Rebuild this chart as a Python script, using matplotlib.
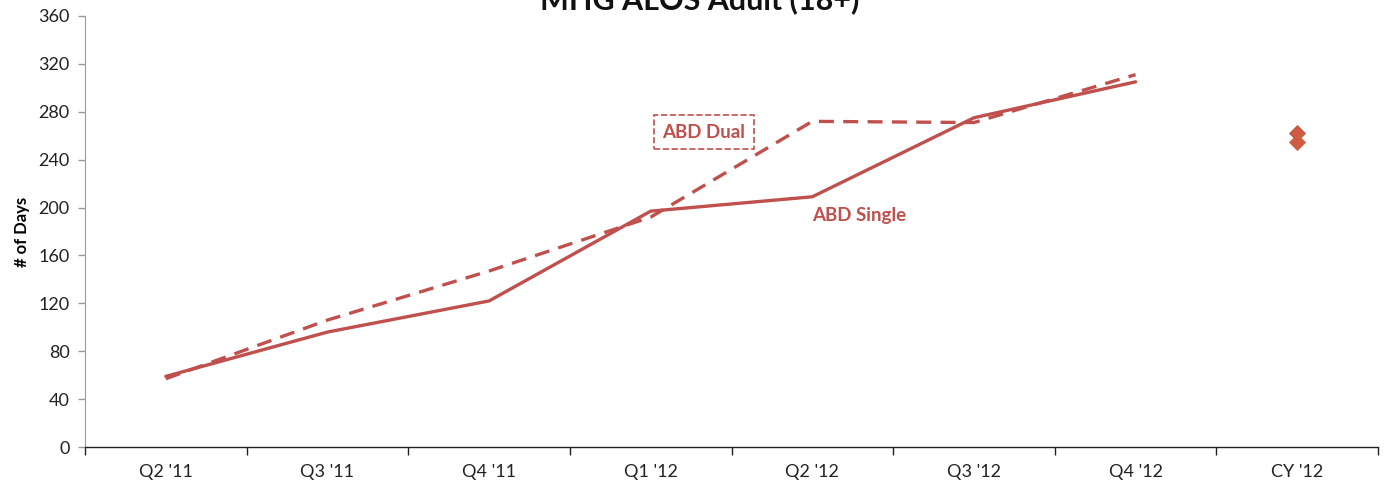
import matplotlib
matplotlib.use("Agg")
import matplotlib.pyplot as plt
import numpy as np

categories = ["Q2 '11", "Q3 '11", "Q4 '11", "Q1 '12", "Q2 '12", "Q3 '12", "Q4 '12", "CY '12"]
abd_single = [59, 96, 122, 197, 209, 275, 305]
abd_dual = [57, 106, 147, 192, 272, 271, 311]
cy12_single = 255
cy12_dual = 262
y_ticks = [0, 40, 80, 120, 160, 200, 240, 280, 320, 360]

plt.rcParams['font.family'] = ['Lato', 'DejaVu Sans']
red = '#c0504d'

fig = plt.figure(figsize=(13.88, 4.91), dpi=100)
ax = fig.add_axes([85/1388, 44/491, 1293/1388, 431/491])

x = np.arange(len(categories))
n = len(abd_single)
ax.plot(x[:n], abd_single, color=red, lw=2.4, solid_capstyle='round', solid_joinstyle='round')
ax.plot(x[:n], abd_dual, color=red, lw=2.4, dashes=(4.5, 2.8))
ax.plot([x[-1]], [cy12_dual], marker='D', ms=8, color='#d05a44', mec='#b0603a', mew=0.6, ls='none')
ax.plot([x[-1]], [cy12_single], marker='D', ms=8, color='#d05a44', mec='#c0683a', mew=0.6, ls='none')

ax.set_xlim(-0.5, len(categories) - 0.5)
ax.set_ylim(0, 360)
ax.set_yticks(y_ticks)
ax.set_xticks(x)
ax.set_xticklabels(categories)
ax.set_xticks(np.arange(-0.5, len(categories), 1.0), minor=True)
ax.tick_params(axis='x', which='major', length=0, pad=12, labelsize=13, labelcolor='#222222')
ax.tick_params(axis='x', which='minor', length=6, width=1, color='#222222', direction='out')
ax.tick_params(axis='y', length=5, width=1, color='#999999', labelsize=13, labelcolor='#222222', pad=6)

for s in ['top', 'right']:
    ax.spines[s].set_visible(False)
ax.spines['left'].set_color('#999999')
ax.spines['bottom'].set_color('#222222')
ax.spines['bottom'].set_linewidth(1)

ax.set_ylabel('# of Days', fontsize=12, fontweight='bold', labelpad=6)

ax.text(3.33, 263, 'ABD Dual', color=red, fontsize=13.5, fontweight='bold', ha='center', va='center',
        bbox=dict(boxstyle='square,pad=0.45', fc='white', ec=red, ls='--', lw=1.2))
ax.text(4.29, 193, 'ABD Single', color=red, fontsize=13.5, fontweight='bold', ha='center', va='center')

fig.text(700/1388, 1 - 9/491, 'MHG ALOS Adult (18+)', fontsize=22, fontweight='bold',
         ha='center', va='baseline', color='#111111')

fig.savefig('out.png', dpi=100)
